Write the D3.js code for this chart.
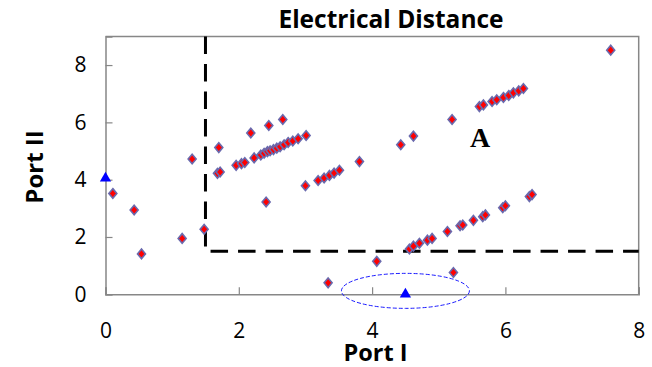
<!DOCTYPE html>
<html>
<head>
<meta charset="utf-8">
<script src="https://cdn.jsdelivr.net/npm/d3@7"></script>
<style>
  body { margin: 0; background: #fff; }
  svg { display: block; }
</style>
</head>
<body>
<div id="chart"></div>
<script>
// Electrical Distance scatter: Port I vs Port II

const portI = [0.11, 0.43, 0.54, 1.15, 1.30, 1.48, 1.68, 1.72, 1.70,
  1.96, 2.04, 2.09, 2.18, 2.23, 2.33, 2.38, 2.43, 2.45, 2.47, 2.52, 2.57, 2.62, 2.66, 2.68, 2.74, 2.81, 2.89, 3.01,
  2.41, 3.00, 3.19, 3.28, 3.36, 3.43, 3.51, 3.81,
  4.43, 4.62, 5.20, 5.61, 5.67, 5.80, 5.87, 5.97, 6.05, 6.12, 6.20, 6.27, 7.58,
  3.34, 4.07, 5.22,
  4.56, 4.62, 4.71, 4.83, 4.90, 5.13, 5.32, 5.36, 5.52, 5.66, 5.70, 5.96, 6.00, 6.36, 6.40];
const portII = [3.52, 2.94, 1.41, 1.95, 4.72, 2.27, 4.22, 4.27, 5.12,
  4.50, 4.56, 4.60, 5.63, 4.76, 4.86, 4.92, 4.98, 5.89, 5.01, 5.05, 5.10, 5.15, 6.10, 5.22, 5.30, 5.35, 5.43, 5.54,
  3.22, 3.79, 3.97, 4.06, 4.15, 4.23, 4.33, 4.63,
  5.22, 5.52, 6.10, 6.55, 6.61, 6.73, 6.79, 6.87, 6.94, 7.03, 7.10, 7.18, 8.52,
  0.40, 1.15, 0.76,
  1.58, 1.68, 1.78, 1.89, 1.95, 2.19, 2.39, 2.42, 2.58, 2.71, 2.77, 3.02, 3.09, 3.41, 3.48];

// reference (port) points, blue triangles
const refI = [0, 4.5];
const refII = [4.05, 0];

// region A boundary
const boundI = 1.5, boundII = 1.5;
const xTicks = [0, 2, 4, 6, 8];
const yTicks = [0, 2, 4, 6, 8];

const W = 652, H = 367;
const margin = {top: 36.4, right: 13.3, bottom: 72.7, left: 105.5},
    width = W - margin.left - margin.right,
    height = H - margin.top - margin.bottom;

const svg = d3.select("#chart")
  .append("svg")
  .attr("width", W)
  .attr("height", H);

const g = svg.append("g")
  .attr("transform", `translate(${margin.left},${margin.top})`);

const x = d3.scaleLinear().domain([0, 8]).range([0, width]);
const y = d3.scaleLinear().domain([0, 9]).range([height, 0]);

const axisColor = "#878787";
const font = "'Open Sans', sans-serif";

// frame (top and right)
g.append("path")
  .attr("d", `M0,0H${width}V${height}`)
  .attr("fill", "none")
  .attr("stroke", axisColor)
  .attr("stroke-width", 1.5);

// x axis
const xAxis = g.append("g")
  .attr("transform", `translate(0,${height})`)
  .call(d3.axisBottom(x).tickValues(xTicks).tickSize(-7).tickPadding(29));
// y axis
const yAxis = g.append("g")
  .call(d3.axisLeft(y).tickValues(yTicks).tickSize(-7).tickPadding(19));

[xAxis, yAxis].forEach(a => {
  a.select(".domain").attr("stroke", axisColor).attr("stroke-width", 1.5);
  a.selectAll(".tick line").attr("stroke", axisColor).attr("stroke-width", 1.2);
  a.selectAll(".tick text")
    .attr("fill", "#000")
    .style("font-family", font)
    .style("font-size", "21px");
});

// dashed boundary
g.append("path")
  .attr("d", `M${x(boundI)},0V${y(boundII)}H${width}`)
  .attr("fill", "none")
  .attr("stroke", "#000")
  .attr("stroke-width", 3)
  .attr("stroke-dasharray", "17.5,10");

// ellipse around port I reference
g.append("ellipse")
  .attr("cx", x(4.5))
  .attr("cy", y(0.12))
  .attr("rx", 64)
  .attr("ry", 17.5)
  .attr("fill", "none")
  .attr("stroke", "#1a1aff")
  .attr("stroke-width", 1)
  .attr("stroke-dasharray", "4,2");

// points
const pts = portI.map((d, i) => ({I: d, II: portII[i]}));
g.selectAll("path.pt")
  .data(pts)
  .enter()
  .append("path")
  .attr("class", "pt")
  .attr("d", "M0,-4.8L4,0L0,4.8L-4,0Z")
  .attr("transform", d => `translate(${x(d.I)},${y(d.II)})`)
  .attr("fill", "#ff0000")
  .attr("stroke", "#6a6aae")
  .attr("stroke-width", 1.6);

// reference triangles
g.selectAll("path.ref")
  .data(refI.map((d, i) => ({I: d, II: refII[i]})))
  .enter()
  .append("path")
  .attr("class", "ref")
  .attr("d", d3.symbol(d3.symbolTriangle, 55))
  .attr("transform", d => `translate(${x(d.I)},${y(d.II)})`)
  .attr("fill", "#0000ff");

// label A
g.append("text")
  .attr("x", x(5.62))
  .attr("y", y(5.13))
  .attr("text-anchor", "middle")
  .style("font-family", "'Liberation Serif', 'Times New Roman', serif")
  .style("font-weight", "bold")
  .style("font-size", "28px")
  .text("A");

// title
svg.append("text")
  .attr("x", 391)
  .attr("y", 28)
  .attr("text-anchor", "middle")
  .style("font-family", font)
  .style("font-weight", "bold")
  .style("font-size", "24.5px")
  .text("Electrical Distance");

// axis labels
svg.append("text")
  .attr("x", 375.5)
  .attr("y", 360.5)
  .attr("text-anchor", "middle")
  .style("font-family", font)
  .style("font-weight", "bold")
  .style("font-size", "23.5px")
  .text("Port I");

svg.append("text")
  .attr("transform", "rotate(-90)")
  .attr("x", -167)
  .attr("y", 43)
  .attr("text-anchor", "middle")
  .style("font-family", font)
  .style("font-weight", "bold")
  .style("font-size", "24px")
  .text("Port II");
</script>
</body>
</html>
